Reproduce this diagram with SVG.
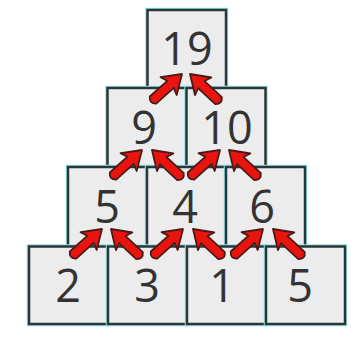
<svg xmlns="http://www.w3.org/2000/svg" xmlns:xlink="http://www.w3.org/1999/xlink" width="351" height="345" viewBox="0 0 351 345">
<style>
.glow{fill:none;stroke:#8ee8ea;stroke-width:4.5}
.box{fill:#ececec;stroke:#2c3638;stroke-width:2.5}
.num{font-family:"Open Sans","Noto Sans",sans-serif;font-size:45px;fill:#333;text-anchor:middle}
.arr{fill:#ea140f;stroke:#4a1a18;stroke-width:1.8;stroke-linejoin:round}
</style>
<defs>
<path id="arrow" class="arr" d="M0,0 L-18,-12 L-15.5,-4.8 L-39,-4.8 Q-44.5,0 -39,4.8 L-15.5,4.8 L-18,12 Z"/>
</defs>
<rect width="351" height="345" fill="#fff"/>
<g id="n19"><rect class="glow" x="147.5" y="10" width="78.5" height="78"/><rect class="box" x="147.5" y="10" width="78.5" height="78"/><text class="num" x="187" y="65">19</text></g>
<g id="n9"><rect class="glow" x="107.5" y="88" width="79" height="79"/><rect class="box" x="107.5" y="88" width="79" height="79"/><text class="num" x="144" y="144">9</text></g>
<g id="n10"><rect class="glow" x="186.5" y="88" width="79" height="79"/><rect class="box" x="186.5" y="88" width="79" height="79"/><text class="num" x="227" y="144">10</text></g>
<g id="n5a"><rect class="glow" x="68" y="167" width="79" height="79.5"/><rect class="box" x="68" y="167" width="79" height="79.5"/><text class="num" x="107" y="223">5</text></g>
<g id="n4"><rect class="glow" x="147" y="167" width="79" height="79.5"/><rect class="box" x="147" y="167" width="79" height="79.5"/><text class="num" x="185" y="223">4</text></g>
<g id="n6"><rect class="glow" x="226" y="167" width="79" height="79.5"/><rect class="box" x="226" y="167" width="79" height="79.5"/><text class="num" x="262" y="223">6</text></g>
<g id="n2"><rect class="glow" x="29" y="246.5" width="79" height="77.5"/><rect class="box" x="29" y="246.5" width="79" height="77.5"/><text class="num" x="68" y="302">2</text></g>
<g id="n3"><rect class="glow" x="108" y="246.5" width="79" height="77.5"/><rect class="box" x="108" y="246.5" width="79" height="77.5"/><text class="num" x="147" y="302">3</text></g>
<g id="n1"><rect class="glow" x="187" y="246.5" width="79" height="77.5"/><rect class="box" x="187" y="246.5" width="79" height="77.5"/><text class="num" x="222" y="302">1</text></g>
<g id="n5b"><rect class="glow" x="266" y="246.5" width="79" height="77.5"/><rect class="box" x="266" y="246.5" width="79" height="77.5"/><text class="num" x="300" y="302">5</text></g>
<g id="connectors">
<use xlink:href="#arrow" transform="translate(182,74) rotate(-42)"/>
<use xlink:href="#arrow" transform="translate(190,74) rotate(-137)"/>
<use xlink:href="#arrow" transform="translate(142,150) rotate(-42)"/>
<use xlink:href="#arrow" transform="translate(152,150) rotate(-137)"/>
<use xlink:href="#arrow" transform="translate(220,150) rotate(-42)"/>
<use xlink:href="#arrow" transform="translate(229,150) rotate(-137)"/>
<use xlink:href="#arrow" transform="translate(102,229) rotate(-42)"/>
<use xlink:href="#arrow" transform="translate(111,229) rotate(-137)"/>
<use xlink:href="#arrow" transform="translate(183,229) rotate(-42)"/>
<use xlink:href="#arrow" transform="translate(193,229) rotate(-137)"/>
<use xlink:href="#arrow" transform="translate(263,229) rotate(-42)"/>
<use xlink:href="#arrow" transform="translate(273,229) rotate(-137)"/>
</g>
</svg>
